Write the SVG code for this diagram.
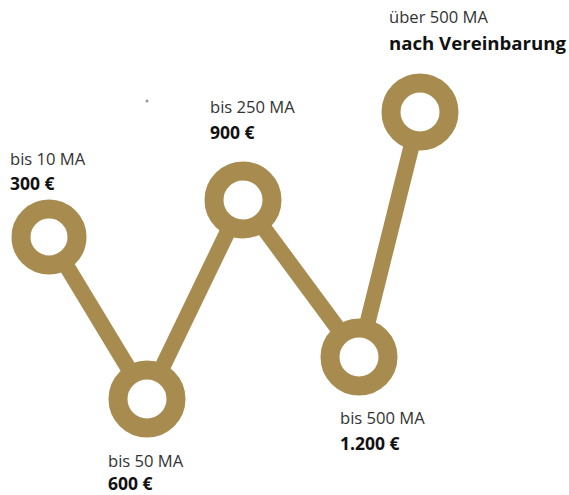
<svg xmlns="http://www.w3.org/2000/svg" width="569" height="495" viewBox="0 0 569 495">
<style>
.ln{stroke:#A88B4E;stroke-width:16;stroke-linecap:butt;fill:none}
.ring{stroke:#A88B4E;stroke-width:19;fill:#fff}
.t{font-family:"Open Sans","Noto Sans",sans-serif;font-size:16.6px;fill:#333}
.b{font-weight:bold;fill:#111;font-size:17.5px}
</style>
<rect width="569" height="495" fill="#fff"/>
<circle cx="147" cy="101" r="1.5" fill="#999"/>
<g id="connectors">
<line class="ln" x1="49" y1="237" x2="147" y2="399"/>
<line class="ln" x1="147" y1="399" x2="243" y2="200"/>
<line class="ln" x1="243" y1="200" x2="359" y2="357"/>
<line class="ln" x1="359" y1="357" x2="420" y2="112"/>
</g>
<g id="n1"><circle class="ring" cx="49" cy="237" r="28"/><text class="t" x="10" y="165">bis 10 MA</text><text class="t b" x="10" y="190">300 €</text></g>
<g id="n2"><circle class="ring" cx="147" cy="399" r="29"/><text class="t" x="108" y="467">bis 50 MA</text><text class="t b" x="108" y="490">600 €</text></g>
<g id="n3"><circle class="ring" cx="243" cy="200" r="29"/><text class="t" x="210" y="113">bis 250 MA</text><text class="t b" x="210" y="139">900 €</text></g>
<g id="n4"><circle class="ring" cx="359" cy="357" r="29"/><text class="t" x="340" y="424">bis 500 MA</text><text class="t b" x="340" y="450">1.200 €</text></g>
<g id="n5"><circle class="ring" cx="420" cy="112" r="29"/><text class="t" x="389" y="23">über 500 MA</text><text class="t b" x="389" y="50" textLength="177" lengthAdjust="spacingAndGlyphs">nach Vereinbarung</text></g>
</svg>
